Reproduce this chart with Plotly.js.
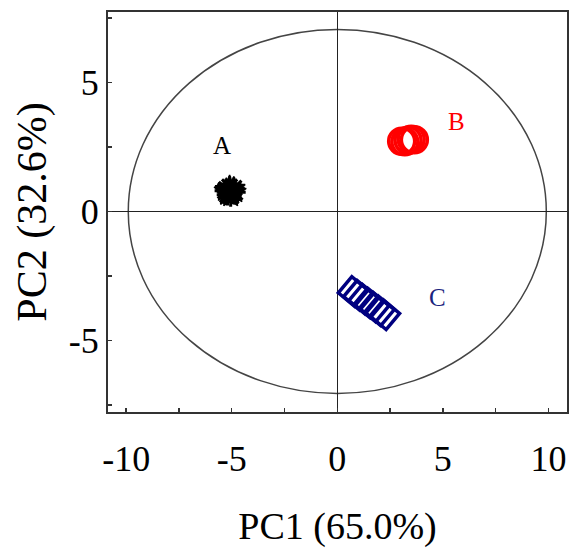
<!DOCTYPE html>
<html>
<head>
<meta charset="utf-8">
<script src="https://cdn.plot.ly/plotly-3.0.1.min.js"></script>
<style>html,body{margin:0;padding:0;background:#fff;}#chart{width:571px;height:558px;}</style>
</head>
<body>
<div id="chart"></div>
<script>
// Group A (black asterisks)
const aX = [-5.25, -5.1, -4.95, -5.2, -5.0, -4.9, -5.15, -5.05, -5.3, -4.85];
const aY = [0.85, 0.95, 0.8, 0.65, 0.7, 0.9, 0.75, 0.6, 0.8, 0.75];
// Group B (red open circles)
const bX = [3.05, 3.2, 3.35, 3.5, 3.65];
const bY = [2.72, 2.7, 2.76, 2.8, 2.78];
// Group C (navy open squares)
const cX = [0.75, 1.0, 1.25, 1.5, 1.75, 2.0, 2.25];
const cY = [-3.1, -3.25, -3.4, -3.55, -3.7, -3.85, -4.0];
// Tick labels
const xTickVals = [-10, -5, 0, 5, 10];
const xTickText = ['-10', '-5', '0', '5', '10'];
const yTickVals = [-5, 0, 5];
const yTickText = ['-5', '0', '5'];
// Group labels
const groupLabels = ['A', 'B', 'C'];
const labelX = [-5.45, 5.65, 4.75];
const labelY = [2.55, 3.5, -3.35];
const labelColors = ['#000000', '#ff0000', '#1a237e'];
// Confidence ellipse semi-axes
const ellipseRx = [9.9];
const ellipseRy = [7.05];

const traces = [
  {x: aX, y: aY, mode: 'markers', type: 'scatter',
   marker: {symbol: 'star', size: 17, color: '#000', line: {color: '#000', width: 1.5}}},
  {x: aX, y: aY, mode: 'markers', type: 'scatter',
   marker: {symbol: 'asterisk-open', size: 18, color: '#000', line: {color: '#000', width: 3}}},
  {x: bX, y: bY, mode: 'markers', type: 'scatter',
   marker: {symbol: 'circle-open', size: 26, color: '#ff0000', line: {color: '#ff0000', width: 3.5}}},
  {x: cX, y: cY, mode: 'markers', type: 'scatter',
   marker: {symbol: 'square-open', size: 21, angle: 40, color: '#000080', line: {color: '#000080', width: 3.5}}}
];

const serif = 'Liberation Serif, Times New Roman, serif';
const layout = {
  width: 571, height: 558,
  margin: {l: 108, r: 4, t: 12, b: 146},
  paper_bgcolor: '#fff', plot_bgcolor: '#fff',
  showlegend: false,
  font: {family: serif, color: '#000'},
  xaxis: {
    range: [-10.86, 10.88], tickvals: xTickVals, ticktext: xTickText,
    ticks: 'inside', ticklen: 4, tickwidth: 1.5, tickcolor: '#333',
    minor: {dtick: 2.5, tick0: 0, ticks: 'inside', ticklen: 4, tickwidth: 1.5, tickcolor: '#333'},
    showgrid: false, zeroline: true, zerolinecolor: '#222', zerolinewidth: 1.5,
    showline: true, mirror: true, linecolor: '#333', linewidth: 2,
    ticklabelstandoff: 14,
    tickfont: {family: serif, size: 36, color: '#000'},
    title: {text: 'PC1 (65.0%)', font: {family: serif, size: 38, color: '#000'}, standoff: 34}
  },
  yaxis: {
    range: [-7.77, 7.73], tickvals: yTickVals, ticktext: yTickText,
    ticks: 'inside', ticklen: 4, tickwidth: 1.5, tickcolor: '#333',
    minor: {dtick: 2.5, tick0: 0, ticks: 'inside', ticklen: 4, tickwidth: 1.5, tickcolor: '#333'},
    showgrid: false, zeroline: true, zerolinecolor: '#222', zerolinewidth: 1.5,
    showline: true, mirror: true, linecolor: '#333', linewidth: 2,
    tickfont: {family: serif, size: 36, color: '#000'},
    title: {text: 'PC2 (32.6%)', font: {family: serif, size: 42, color: '#000'}, standoff: 9}
  },
  shapes: [{
    type: 'circle', xref: 'x', yref: 'y',
    x0: -ellipseRx[0], x1: ellipseRx[0], y0: -ellipseRy[0], y1: ellipseRy[0],
    line: {color: '#444', width: 1.5}, layer: 'below'
  }],
  annotations: groupLabels.map((t, i) => ({
    x: labelX[i], y: labelY[i], xref: 'x', yref: 'y', text: t, showarrow: false,
    font: {family: serif, size: 25, color: labelColors[i]}
  }))
};

Plotly.newPlot('chart', traces, layout, {displayModeBar: false, staticPlot: true});
</script>
</body>
</html>
